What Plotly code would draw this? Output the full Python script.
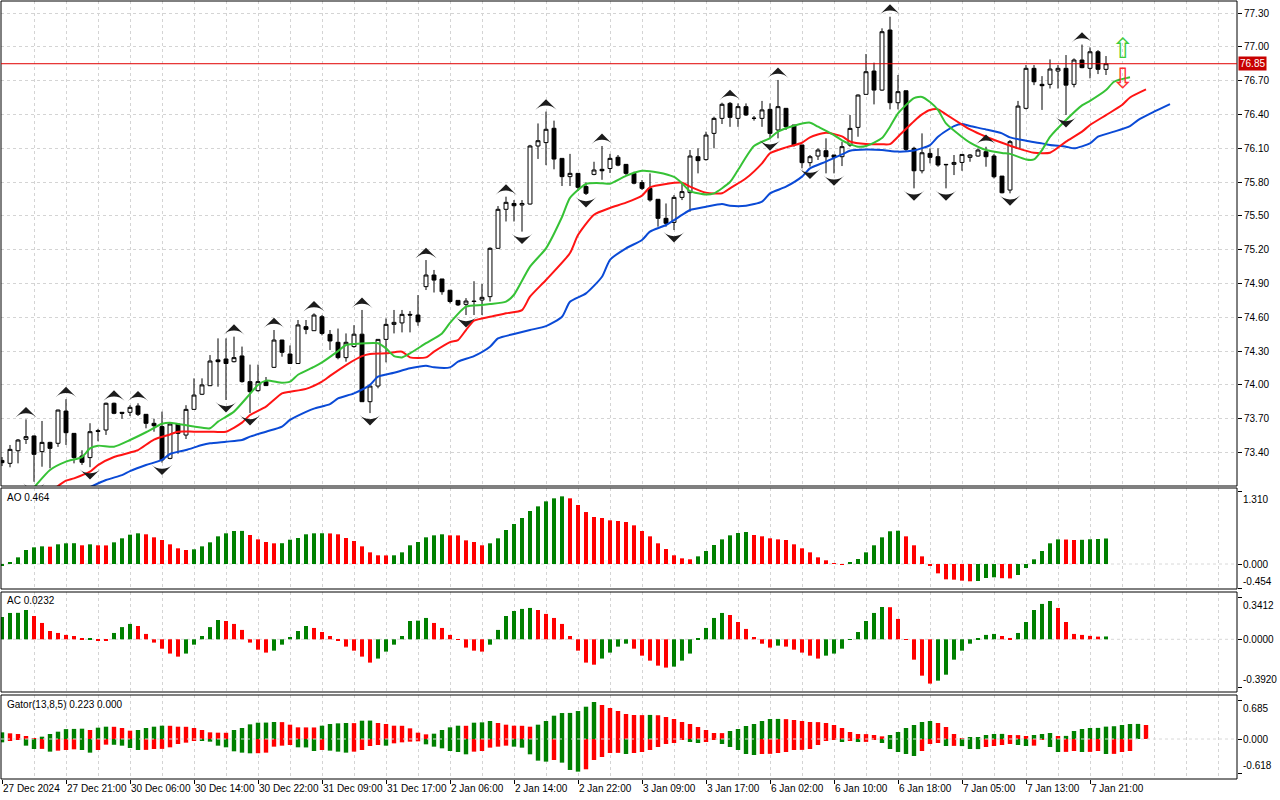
import plotly.graph_objects as go

# ---- price data (H1 bars, index 0 = 27 Dec 2024) ----
opens = [73.33, 73.304, 73.416, 73.517, 73.547, 73.408, 73.49, 73.482, 73.768, 73.57,
         73.369, 73.355, 73.594, 73.6, 73.837, 73.757, 73.757, 73.813, 73.739, 73.659,
         73.63, 73.348, 73.653, 73.555, 73.783, 73.917, 73.993, 74.222, 74.23, 74.206,
         74.257, 74.029, 73.949, 74.029, 74.156, 74.398, 74.274, 74.19, 74.517, 74.481,
         74.605, 74.448, 74.378, 74.242, 74.34, 74.45, 73.851, 73.99, 74.404, 74.537,
         74.55, 74.626, 74.62, 74.872, 74.975, 74.94, 74.84, 74.75, 74.715, 74.744,
         74.753, 74.783, 75.212, 75.558, 75.61, 75.596, 75.605, 76.12, 76.15, 76.277,
         76.01, 75.848, 75.877, 75.76, 75.868, 75.913, 75.92, 76.02, 75.957, 75.877,
         75.795, 75.744, 75.647, 75.478, 75.442, 75.664, 75.706, 76.025, 75.999, 76.232,
         76.365, 76.498, 76.365, 76.469, 76.365, 76.365, 76.445, 76.262, 76.454, 76.306,
         76.129, 75.972, 76.031, 76.078, 76.04, 76.025, 76.128, 76.285, 76.578, 76.785,
         76.616, 77.149, 76.504, 76.61, 76.099, 75.9, 76.054, 76.025, 75.957, 75.957,
         75.974, 76.019, 76.031, 76.069, 76.031, 75.853, 75.729, 76.099, 76.454, 76.809,
         76.667, 76.667, 76.785, 76.809, 76.667, 76.883, 76.809, 76.956, 76.8]
highs = [73.36, 73.467, 73.52, 73.694, 73.55, 73.68, 73.495, 73.78, 73.873, 73.57,
         73.42, 73.66, 73.61, 73.843, 73.843, 73.757, 73.82, 73.837, 73.74, 73.7,
         73.763, 73.66, 73.66, 73.82, 74.058, 74.058, 74.265, 74.413, 74.413, 74.428,
         74.34, 74.18, 74.18, 74.07, 74.487, 74.4, 74.35, 74.576, 74.576, 74.635,
         74.62, 74.487, 74.5, 74.457, 74.53, 74.665, 73.99, 74.404, 74.59, 74.665,
         74.665, 74.655, 74.797, 75.108, 75.02, 74.94, 74.84, 74.75, 74.77, 74.92,
         74.895, 75.221, 75.587, 75.67, 75.64, 75.64, 76.13, 76.32, 76.425, 76.345,
         76.01, 76.05, 75.877, 75.797, 75.98, 76.12, 76.05, 76.04, 75.96, 75.892,
         75.818, 75.877, 75.647, 75.61, 75.685, 75.79, 76.084, 76.099, 76.247, 76.38,
         76.504, 76.51, 76.498, 76.498, 76.386, 76.52, 76.498, 76.706, 76.454, 76.306,
         76.129, 76.04, 76.099, 76.188, 76.04, 76.158, 76.395, 76.578, 76.936, 76.859,
         77.164, 77.267, 76.75, 76.61, 76.113, 76.232, 76.099, 76.099, 75.96, 76.04,
         76.045, 76.048, 76.099, 76.113, 76.048, 75.853, 76.173, 76.52, 76.838, 76.838,
         76.74, 76.888, 76.838, 76.927, 76.897, 77.02, 76.995, 76.971, 76.918]
lows = [73.28, 73.269, 73.304, 73.476, 73.141, 73.274, 73.26, 73.45, 73.467, 73.304,
        73.29, 73.27, 73.5, 73.556, 73.74, 73.7, 73.724, 73.724, 73.615, 73.585,
        73.31, 73.34, 73.39, 73.52, 73.78, 73.91, 73.99, 73.984, 73.866, 74.2,
        74.02, 73.75, 73.94, 73.99, 74.15, 74.25, 74.185, 74.19, 74.45, 74.48,
        74.44, 74.31, 74.227, 74.206, 74.33, 73.85, 73.75, 73.97, 74.2, 74.457,
        74.466, 74.466, 74.525, 74.842, 74.82, 74.8, 74.724, 74.7, 74.62, 74.62,
        74.62, 74.74, 75.21, 75.45, 75.45, 75.36, 75.6, 76.005, 75.95, 75.913,
        75.765, 75.765, 75.72, 75.685, 75.86, 75.82, 75.88, 75.94, 75.863, 75.78,
        75.73, 75.626, 75.404, 75.404, 75.374, 75.64, 75.537, 75.877, 75.99, 76.099,
        76.315, 76.29, 76.29, 76.386, 76.345, 76.29, 76.188, 76.188, 76.262, 76.114,
        75.922, 75.937, 75.996, 75.877, 75.877, 75.942, 76.113, 76.202, 76.578, 76.489,
        76.61, 76.445, 76.445, 76.069, 75.744, 75.877, 75.966, 75.936, 75.744, 75.862,
        75.9, 75.98, 76.025, 75.936, 75.832, 75.7, 75.7, 76.095, 76.445, 76.66,
        76.44, 76.63, 76.63, 76.395, 76.64, 76.81, 76.72, 76.758, 76.75]
closes = [73.31, 73.428, 73.511, 73.541, 73.384, 73.49, 73.437, 73.777, 73.576, 73.355,
          73.313, 73.585, 73.588, 73.837, 73.748, 73.748, 73.801, 73.739, 73.659, 73.638,
          73.334, 73.653, 73.57, 73.783, 73.91, 74.0, 74.212, 74.206, 74.19, 74.242,
          74.029, 73.94, 74.029, 73.994, 74.398, 74.289, 74.19, 74.532, 74.493, 74.62,
          74.457, 74.39, 74.242, 74.378, 74.45, 73.851, 73.99, 74.404, 74.537, 74.555,
          74.626, 74.62, 74.56, 74.975, 74.93, 74.827, 74.74, 74.71, 74.744, 74.74,
          74.777, 75.212, 75.558, 75.62, 75.59, 75.61, 76.12, 76.167, 76.268, 76.004,
          75.848, 75.877, 75.753, 75.7, 75.907, 75.9, 76.01, 75.95, 75.877, 75.79,
          75.744, 75.641, 75.478, 75.434, 75.664, 75.715, 76.031, 75.99, 76.217, 76.365,
          76.49, 76.374, 76.469, 76.395, 76.366, 76.44, 76.232, 76.469, 76.291, 76.129,
          75.972, 76.025, 76.084, 76.025, 76.02, 76.114, 76.276, 76.572, 76.779, 76.616,
          77.134, 76.504, 76.602, 76.09, 75.9, 76.06, 76.019, 75.951, 75.954, 75.974,
          76.045, 76.04, 76.084, 76.025, 75.847, 75.705, 76.158, 76.474, 76.809, 76.69,
          76.655, 76.803, 76.809, 76.66, 76.883, 76.815, 76.956, 76.8, 76.85]

fractal_up = [3, 8, 14, 17, 29, 34, 39, 45, 53, 63, 68, 75, 91, 97, 111, 123, 135]
fractal_dn = [4, 11, 20, 28, 31, 46, 58, 65, 73, 84, 96, 101, 104, 114, 118, 126, 133]

# ---- alligator lines (bar index, price), already shifted ----
lips_k = [3, 4, 6, 8, 10, 11, 12, 14, 16, 18, 20, 21, 22, 24, 26, 27, 29, 31, 32, 33,
          35, 36, 37, 39, 40, 42, 43, 44, 47, 48, 49, 50, 51, 53, 55, 56, 58, 60, 61, 63,
          64, 66, 68, 70, 71, 73, 75, 76, 78, 80, 82, 84, 85, 86, 88, 89, 91, 92, 94, 96,
          97, 99, 101, 102, 104, 105, 106, 107, 108, 110, 111, 112, 114, 115, 116, 117, 118, 120, 121, 123,
          125, 126, 128, 129, 130, 131, 133, 135, 136, 138, 139, 141]
lips_p = [73.01, 73.09, 73.245, 73.319, 73.36, 73.437, 73.461, 73.452, 73.511, 73.58,
          73.655, 73.665, 73.653, 73.63, 73.615, 73.674, 73.763, 73.92, 74.0, 74.038,
          74.02, 74.029, 74.09, 74.16, 74.2, 74.3, 74.354, 74.363, 74.37, 74.324,
          74.256, 74.244, 74.28, 74.37, 74.457, 74.55, 74.694, 74.709, 74.718, 74.739,
          74.8, 75.049, 75.212, 75.49, 75.66, 75.783, 75.79, 75.785, 75.855, 75.9,
          75.885, 75.845, 75.79, 75.72, 75.69, 75.7, 75.8, 75.907, 76.12, 76.19,
          76.247, 76.3, 76.327, 76.291, 76.217, 76.17, 76.137, 76.114, 76.12, 76.19,
          76.291, 76.409, 76.545, 76.555, 76.51, 76.44, 76.32, 76.2, 76.15, 76.084,
          76.058, 76.05, 76.001, 76.001, 76.084, 76.2, 76.35, 76.48, 76.52, 76.616,
          76.69, 76.729]
teeth_k = [6, 8, 9, 11, 12, 14, 16, 17, 19, 21, 22, 24, 26, 28, 30, 31, 33, 35, 36, 38,
           40, 41, 43, 45, 46, 48, 50, 51, 53, 54, 56, 57, 58, 59, 61, 63, 65, 66, 68, 71,
           72, 74, 76, 78, 80, 81, 83, 85, 86, 88, 90, 91, 93, 95, 96, 98, 100, 101, 103, 105,
           106, 108, 110, 111, 112, 114, 115, 116, 117, 118, 120, 121, 123, 125, 127, 129, 131, 133, 135, 136,
           138, 140, 141, 143]
teeth_p = [73.05, 73.15, 73.171, 73.23, 73.289, 73.36, 73.4, 73.422, 73.515, 73.56,
           73.585, 73.585, 73.585, 73.585, 73.665, 73.733, 73.807, 73.925, 73.94, 73.965,
           74.03, 74.08, 74.176, 74.255, 74.274, 74.28, 74.295, 74.244, 74.244, 74.295,
           74.38, 74.398, 74.487, 74.57, 74.605, 74.635, 74.664, 74.783, 74.931, 75.17,
           75.33, 75.51, 75.57, 75.617, 75.68, 75.753, 75.783, 75.794, 75.76, 75.706,
           75.7, 75.744, 75.833, 75.966, 76.055, 76.108, 76.149, 76.197, 76.238, 76.205,
           76.16, 76.137, 76.135, 76.137, 76.202, 76.34, 76.4, 76.439, 76.445, 76.4,
           76.31, 76.267, 76.202, 76.149, 76.099, 76.06, 76.06, 76.158, 76.247, 76.306,
           76.394, 76.483, 76.55, 76.622]
jaw_k = [10, 13, 15, 16, 18, 20, 21, 23, 25, 26, 28, 30, 31, 33, 35, 36, 38, 39, 41, 42,
         44, 46, 47, 49, 51, 53, 54, 56, 57, 59, 61, 62, 64, 66, 68, 70, 71, 73, 75, 76,
         78, 80, 81, 83, 85, 86, 88, 90, 91, 93, 95, 96, 98, 100, 101, 103, 105, 106, 108, 110,
         112, 114, 116, 117, 119, 120, 121, 123, 125, 126, 128, 130, 131, 133, 134, 136, 137, 139, 141, 142,
         144, 146]
jaw_p = [73.06, 73.156, 73.2, 73.235, 73.289, 73.334, 73.387, 73.422, 73.467, 73.482,
         73.496, 73.511, 73.541, 73.585, 73.63, 73.689, 73.76, 73.79, 73.83, 73.88,
         73.925, 74.0, 74.073, 74.108, 74.147, 74.17, 74.156, 74.156, 74.206, 74.256,
         74.339, 74.413, 74.452, 74.487, 74.522, 74.605, 74.738, 74.812, 74.96, 75.11,
         75.212, 75.286, 75.36, 75.419, 75.508, 75.552, 75.581, 75.605, 75.59, 75.59,
         75.626, 75.7, 75.759, 75.848, 75.922, 75.981, 76.045, 76.078, 76.088, 76.084,
         76.07, 76.08, 76.128, 76.202, 76.297, 76.315, 76.297, 76.267, 76.232, 76.196,
         76.167, 76.143, 76.128, 76.114, 76.099, 76.143, 76.202, 76.247, 76.297, 76.35,
         76.424, 76.492]

# ---- oscillators ----
ao = [-0.03, 0.036, 0.121, 0.255, 0.303, 0.321, 0.315, 0.358, 0.376, 0.378,
      0.34, 0.358, 0.34, 0.338, 0.394, 0.467, 0.533, 0.558, 0.54, 0.485,
      0.436, 0.358, 0.285, 0.255, 0.267, 0.321, 0.394, 0.503, 0.558, 0.6,
      0.602, 0.527, 0.448, 0.4, 0.376, 0.378, 0.442, 0.473, 0.54, 0.558,
      0.559, 0.556, 0.54, 0.473, 0.418, 0.321, 0.212, 0.158, 0.156, 0.158,
      0.212, 0.34, 0.4, 0.485, 0.521, 0.54, 0.521, 0.52, 0.43, 0.4,
      0.34, 0.376, 0.467, 0.618, 0.727, 0.836, 0.964, 1.048, 1.139, 1.194,
      1.23, 1.194, 1.073, 0.945, 0.855, 0.836, 0.794, 0.782, 0.764, 0.703,
      0.6, 0.503, 0.376, 0.273, 0.158, 0.103, 0.085, 0.139, 0.236, 0.345,
      0.448, 0.521, 0.564, 0.582, 0.527, 0.503, 0.467, 0.448, 0.436, 0.358,
      0.285, 0.212, 0.121, 0.067, 0.006, -0.012, 0.03, 0.091, 0.212, 0.34,
      0.485, 0.595, 0.605, 0.503, 0.34, 0.139, -0.036, -0.17, -0.279, -0.285,
      -0.303, -0.315, -0.309, -0.255, -0.242, -0.258, -0.262, -0.2, -0.073, 0.085,
      0.236, 0.376, 0.448, 0.445, 0.436, 0.44, 0.45, 0.455, 0.464]
ac = [0.183, 0.216, 0.217, 0.24, 0.191, 0.134, 0.068, 0.052, 0.036, 0.027,
      0.003, 0.004, -0.01, -0.014, 0.052, 0.1, 0.126, 0.109, 0.044, -0.027,
      -0.077, -0.117, -0.142, -0.117, -0.044, 0.027, 0.1, 0.158, 0.15, 0.126,
      0.077, -0.027, -0.085, -0.109, -0.093, -0.044, 0.019, 0.068, 0.109, 0.093,
      0.06, 0.027, -0.011, -0.06, -0.093, -0.142, -0.191, -0.158, -0.101, -0.044,
      0.027, 0.15, 0.153, 0.175, 0.134, 0.093, 0.036, -0.003, -0.068, -0.093,
      -0.101, -0.044, 0.077, 0.191, 0.232, 0.249, 0.257, 0.24, 0.208, 0.175,
      0.126, 0.027, -0.093, -0.191, -0.208, -0.158, -0.109, -0.06, -0.036, -0.077,
      -0.134, -0.175, -0.216, -0.232, -0.224, -0.175, -0.117, 0.003, 0.093, 0.175,
      0.216, 0.199, 0.142, 0.085, 0.019, -0.036, -0.068, -0.052, -0.06, -0.085,
      -0.109, -0.134, -0.158, -0.134, -0.117, -0.077, 0.002, 0.06, 0.15, 0.216,
      0.265, 0.263, 0.167, -0.003, -0.167, -0.298, -0.363, -0.339, -0.29, -0.167,
      -0.093, -0.036, 0.003, 0.036, 0.044, 0.027, 0.011, 0.052, 0.142, 0.24,
      0.29, 0.314, 0.257, 0.142, 0.044, 0.036, 0.028, 0.022, 0.0232]
gator_up = [0.12, 0.102, 0.09, 0.054, 0.012, 0.042, 0.09, 0.132, 0.178, 0.182,
            0.186, 0.162, 0.204, 0.222, 0.22, 0.198, 0.15, 0.162, 0.198, 0.222,
            0.24, 0.238, 0.222, 0.22, 0.198, 0.162, 0.12, 0.114, 0.112, 0.162,
            0.198, 0.264, 0.294, 0.296, 0.306, 0.304, 0.258, 0.21, 0.209, 0.208,
            0.24, 0.27, 0.282, 0.288, 0.286, 0.33, 0.332, 0.288, 0.27, 0.24,
            0.238, 0.192, 0.114, 0.084, 0.096, 0.162, 0.21, 0.24, 0.238, 0.294,
            0.3, 0.324, 0.288, 0.258, 0.24, 0.238, 0.222, 0.258, 0.324, 0.42,
            0.468, 0.47, 0.504, 0.582, 0.667, 0.613, 0.559, 0.505, 0.45, 0.432,
            0.43, 0.434, 0.428, 0.396, 0.36, 0.306, 0.27, 0.216, 0.162, 0.108,
            0.106, 0.144, 0.18, 0.234, 0.27, 0.324, 0.36, 0.362, 0.358, 0.342,
            0.324, 0.306, 0.304, 0.288, 0.252, 0.198, 0.126, 0.09, 0.088, 0.072,
            0.048, 0.072, 0.126, 0.198, 0.252, 0.306, 0.324, 0.288, 0.216, 0.09,
            0.018, 0.02, 0.022, 0.072, 0.09, 0.092, 0.072, 0.07, 0.054, 0.072,
            0.09, 0.108, 0.054, 0.056, 0.144, 0.18, 0.198, 0.2, 0.223, 0.23,
            0.252, 0.27, 0.272, 0.252]
gator_dn = [0.06, 0.03, 0.018, 0.12, 0.18, 0.178, 0.228, 0.21, 0.198, 0.186,
            0.198, 0.246, 0.198, 0.102, 0.104, 0.12, 0.162, 0.198, 0.196, 0.18,
            0.178, 0.15, 0.09, 0.066, 0.03, 0.032, 0.048, 0.12, 0.15, 0.222,
            0.246, 0.258, 0.256, 0.246, 0.138, 0.12, 0.108, 0.15, 0.152, 0.216,
            0.198, 0.21, 0.228, 0.246, 0.228, 0.198, 0.126, 0.108, 0.12, 0.078,
            0.06, 0.048, 0.042, 0.096, 0.138, 0.168, 0.216, 0.234, 0.276, 0.228,
            0.216, 0.156, 0.138, 0.12, 0.138, 0.156, 0.276, 0.39, 0.408, 0.378,
            0.426, 0.558, 0.588, 0.546, 0.378, 0.324, 0.252, 0.25, 0.27, 0.252,
            0.234, 0.198, 0.144, 0.09, 0.072, 0.018, 0.054, 0.072, 0.054, 0.018,
            0.09, 0.144, 0.198, 0.27, 0.288, 0.27, 0.268, 0.252, 0.234, 0.198,
            0.196, 0.18, 0.108, 0.036, 0.018, 0.054, 0.036, 0.054, 0.052, 0.018,
            0.072, 0.18, 0.234, 0.27, 0.306, 0.216, 0.09, 0.072, 0.126, 0.124,
            0.128, 0.18, 0.182, 0.144, 0.126, 0.108, 0.09, 0.108, 0.126, 0.12,
            0.018, 0.144, 0.234, 0.232, 0.216, 0.234, 0.232, 0.216, 0.27, 0.268,
            0.234, 0.216]

time_labels = ["27 Dec 2024", "27 Dec 21:00", "30 Dec 06:00", "30 Dec 14:00", "30 Dec 22:00",
               "31 Dec 09:00", "31 Dec 17:00", "2 Jan 06:00", "2 Jan 14:00", "2 Jan 22:00",
               "3 Jan 09:00", "3 Jan 17:00", "6 Jan 02:00", "6 Jan 10:00", "6 Jan 18:00",
               "7 Jan 05:00", "7 Jan 13:00", "7 Jan 21:00"]
price_ticks = [73.40, 73.70, 74.00, 74.30, 74.60, 74.90, 75.20, 75.50, 75.80, 76.10,
               76.40, 76.70, 77.00, 77.30]
ao_ticks = [1.310, 0.0, -0.454]
ac_ticks = [0.3412, 0.0, -0.3920]
gator_ticks = [0.685, 0.0, -0.618]
last_price = 76.85

GREEN = "#008000"
RED = "#ff0000"
GRID = "#d4d4d4"
FONT = "Liberation Sans"
W, H = 1280, 800
RIGHT = 1237  # right edge of the plot frames, px


def py(p):
    return 1 - p / H


def updown(vals):
    out = [GREEN]
    for a, b in zip(vals[:-1], vals[1:]):
        out.append(GREEN if b > a else RED)
    return out


n = len(closes)
bars = list(range(n))
xr = [(1 - 2) / 8, (RIGHT - 2) / 8]
xdom = [1 / W, RIGHT / W]

fig = go.Figure()
fig.add_trace(go.Candlestick(
    x=bars, open=opens, high=highs, low=lows, close=closes,
    increasing=dict(fillcolor="white", line=dict(color="black", width=1)),
    decreasing=dict(fillcolor="black", line=dict(color="black", width=1)),
    whiskerwidth=0, hoverinfo="skip", xaxis="x", yaxis="y"))

for kk, pp, col in [(jaw_k, jaw_p, "#0a4ad6"), (teeth_k, teeth_p, "#ff1414"),
                    (lips_k, lips_p, "#36c236")]:
    fig.add_trace(go.Scatter(x=kk, y=pp, mode="lines",
                             line=dict(color=col, width=2, shape="spline", smoothing=0.6),
                             hoverinfo="skip", xaxis="x", yaxis="y"))

# fractal arrows: tip placed a little beyond the bar's extreme
fig.add_trace(go.Scatter(x=fractal_up, y=[highs[k] + 0.11 for k in fractal_up], mode="markers",
                         marker=dict(symbol="arrow-wide", size=15, color="#1c1c1c", angle=0,
                                     line=dict(width=0)),
                         hoverinfo="skip", xaxis="x", yaxis="y"))
fig.add_trace(go.Scatter(x=fractal_dn, y=[lows[k] - 0.11 for k in fractal_dn], mode="markers",
                         marker=dict(symbol="arrow-wide", size=15, color="#1c1c1c", angle=180,
                                     line=dict(width=0)),
                         hoverinfo="skip", xaxis="x", yaxis="y"))

fig.add_trace(go.Bar(x=bars, y=ao, width=0.5, marker=dict(color=updown(ao), line_width=0),
                     hoverinfo="skip", xaxis="x2", yaxis="y2"))
fig.add_trace(go.Bar(x=bars, y=ac, width=0.5, marker=dict(color=updown(ac), line_width=0),
                     hoverinfo="skip", xaxis="x3", yaxis="y3"))
fig.add_trace(go.Bar(x=list(range(len(gator_up))), y=gator_up, width=0.55,
                     marker=dict(color=updown(gator_up), line_width=0),
                     hoverinfo="skip", xaxis="x4", yaxis="y4"))
fig.add_trace(go.Bar(x=list(range(len(gator_dn))), y=[-v for v in gator_dn], width=0.55,
                     marker=dict(color=updown(gator_dn), line_width=0),
                     hoverinfo="skip", xaxis="x4", yaxis="y4"))

label_pos = list(range(0, 8 * len(time_labels), 8))

xbase = dict(range=xr, domain=xdom, showline=False, zeroline=False, showticklabels=False,
             showgrid=True, gridcolor=GRID, griddash="3px,3px", gridwidth=1,
             tickmode="linear", tick0=0, dtick=4, ticks="", fixedrange=True)
ybase = dict(side="right", showline=False, zeroline=False, ticks="outside", ticklen=4,
             tickcolor="black", tickfont=dict(family=FONT, size=10, color="black"), fixedrange=True)

x4 = dict(xbase)
x4.update(tickmode="array", tickvals=label_pos, ticks="outside", ticklen=4, tickcolor="black",
          minor=dict(tickmode="linear", tick0=0, dtick=4, showgrid=True, gridcolor=GRID,
                     griddash="3px,3px", ticks=""), anchor="y4")

# panel frames in px: (top, bottom); value scale: (px of zero, px per unit)
panels = {"y": (1, 486), "y2": (488, 589), "y3": (592, 692), "y4": (695, 779)}
ao_zero, ao_scale = 564, 55.0
ac_zero, ac_scale = 639.3, 122.0
ga_zero, ga_scale = 739, 55.5

fig.update_layout(
    width=W, height=H, margin=dict(l=0, r=0, t=0, b=0),
    paper_bgcolor="white", plot_bgcolor="white", showlegend=False, barmode="overlay",
    font=dict(family=FONT, size=10, color="black"),
    xaxis=dict(xbase, anchor="y", rangeslider=dict(visible=False)),
    xaxis2=dict(xbase, anchor="y2"),
    xaxis3=dict(xbase, anchor="y3"),
    xaxis4=x4,
    yaxis=dict(ybase, anchor="x", domain=[py(486), py(1)],
               range=[77.30 - (486 - 13) / 112.7, 77.30 + 12 / 112.7],
               tickvals=price_ticks, tickformat=".2f",
               showgrid=True, gridcolor=GRID, griddash="3px,3px"),
    yaxis2=dict(ybase, anchor="x2", domain=[py(589), py(488)],
                range=[(ao_zero - 589) / ao_scale, (ao_zero - 488) / ao_scale],
                tickvals=ao_ticks, ticktext=["", "", ""], showgrid=False),
    yaxis3=dict(ybase, anchor="x3", domain=[py(692), py(592)],
                range=[(ac_zero - 692) / ac_scale, (ac_zero - 592) / ac_scale],
                tickvals=ac_ticks, ticktext=["", "", ""], showgrid=False),
    yaxis4=dict(ybase, anchor="x4", domain=[py(779), py(695)],
                range=[(ga_zero - 779) / ga_scale, (ga_zero - 695) / ga_scale],
                tickvals=gator_ticks, ticktext=["", "", ""], showgrid=False),
)

shapes = []
for top, bot in panels.values():
    shapes.append(dict(type="rect", xref="paper", yref="paper", x0=xdom[0], x1=xdom[1],
                       y0=py(bot), y1=py(top), line=dict(color="black", width=1), layer="above"))
for ya, lay in [("y2", "below"), ("y3", "below"), ("y4", "above")]:
    shapes.append(dict(type="line", xref="paper", yref=ya, x0=xdom[0], x1=xdom[1], y0=0, y1=0,
                       line=dict(color="#d8d8d8", width=1, dash="3px,3px"), layer=lay))
shapes.append(dict(type="line", xref="paper", yref="y", x0=xdom[0], x1=xdom[1],
                   y0=last_price, y1=last_price, line=dict(color="#e00000", width=1)))
fig.update_layout(shapes=shapes)

ann = []
for k, t in zip(label_pos, time_labels):
    ann.append(dict(x=k, xref="x4", y=py(788), yref="paper", text=t, showarrow=False,
                    xanchor="left", yanchor="middle", xshift=-1, font=dict(family=FONT, size=10)))
for txt, ypx in [("AO 0.464", 497), ("AC 0.0232", 600), ("Gator(13,8,5) 0.223 0.000", 704)]:
    ann.append(dict(x=5 / W, xref="paper", y=py(ypx), yref="paper", text=txt, showarrow=False,
                    xanchor="left", yanchor="middle", font=dict(family=FONT, size=10)))

# right-hand value labels of the indicator panels (top label hangs below, bottom one sits above)
for ya, ticks, fmt in [("y2", ao_ticks, "{:.3f}"), ("y3", ac_ticks, "{:.4f}"), ("y4", gator_ticks, "{:.3f}")]:
    for v, anchor in zip(ticks, ["top", "middle", "bottom"]):
        ann.append(dict(x=(RIGHT + 4) / W, xref="paper", y=v, yref=ya, text=fmt.format(v),
                        showarrow=False, xanchor="left", yanchor=anchor,
                        font=dict(family=FONT, size=10)))

ann.append(dict(x=(RIGHT + 1) / W, xref="paper", y=last_price, yref="y", text="76.85", showarrow=False,
                xanchor="left", yanchor="middle", bgcolor="#c80000", borderpad=1,
                font=dict(family=FONT, size=10, color="white")))
ann.append(dict(x=140, xref="x", y=76.99, yref="y", text="⇧", showarrow=False, height=22,
                font=dict(family="DejaVu Sans", size=28, color="#3ccc3c")))
ann.append(dict(x=140, xref="x", y=76.725, yref="y", text="⇩", showarrow=False, height=22,
                font=dict(family="DejaVu Sans", size=28, color="#ff3030")))
fig.update_layout(annotations=ann)

# the page body has a default margin; remove it so the figure sits at the window's corner
fig.write_html("out.html", config={"displayModeBar": False},
               post_script="document.body.style.margin='0px';")
